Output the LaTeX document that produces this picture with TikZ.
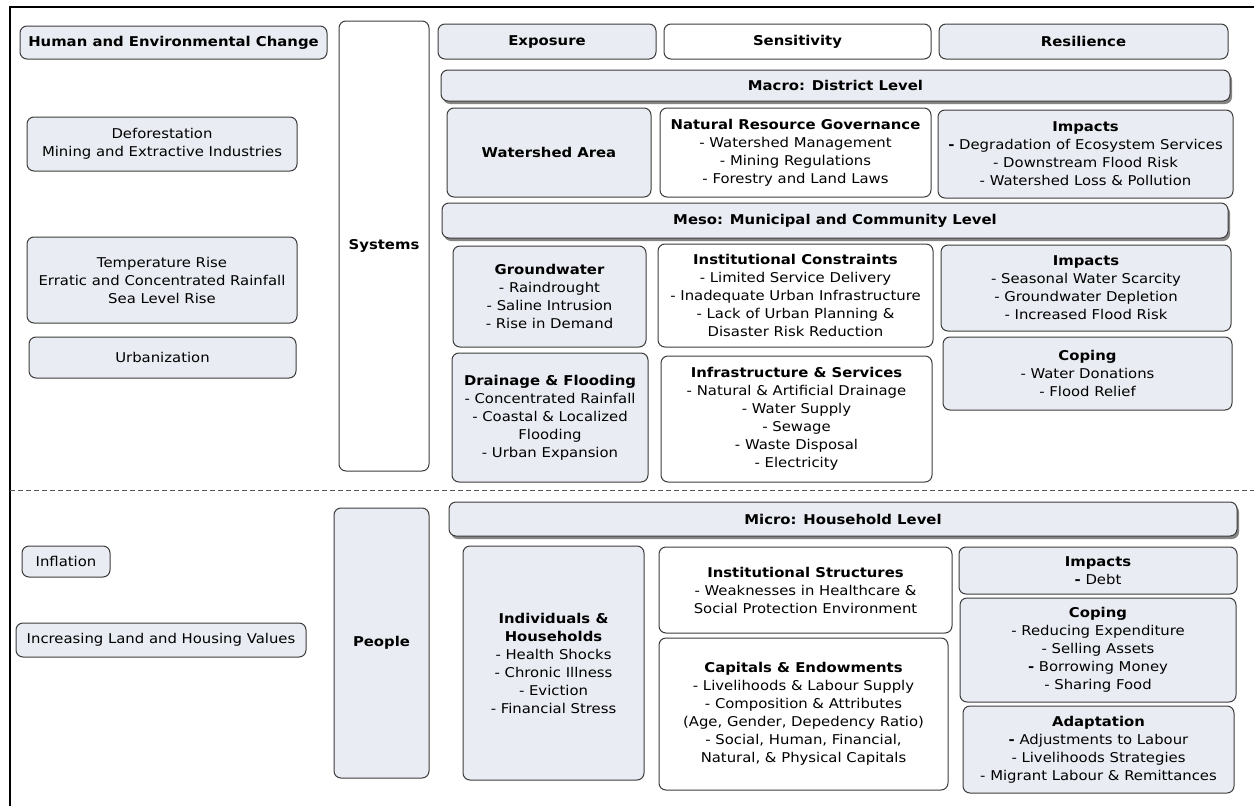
\documentclass[tikz,border=0pt]{standalone}
\usepackage{fontspec}
\setmainfont{DejaVu Sans}[FakeStretch=1.1]
\usetikzlibrary{shadows}
\definecolor{boxfill}{RGB}{233,236,242}
\definecolor{boxline}{RGB}{60,60,60}
\newcommand{\bd}{\textbf{-}}
\begin{document}
\begin{tikzpicture}[x=1pt,y=-1pt,
  box/.style={draw=boxline, line width=1pt, rounded corners=7pt, fill=boxfill,
    align=center, inner sep=2pt, outer sep=0pt, anchor=north west,
    font=\fontsize{13.5}{18}\selectfont},
  wbox/.style={box, fill=white},
  bar/.style={box, drop shadow={shadow xshift=2pt, shadow yshift=-3pt, fill=black!60, opacity=0.8}},
  hd/.style={font=\fontsize{13.5}{18}\selectfont\bfseries}]
\useasboundingbox (0,0) rectangle (1254,806);
% outer frame (top and left edges) and the divider between systems and people
\coordinate (ftl) at (10,7);
\coordinate (ftr) at (1254,7);
\coordinate (fbl) at (10,806);
\draw[line width=2pt, black] (ftr) -- (ftl) -- (fbl);
\coordinate (dl) at (10,490);
\coordinate (dr) at (1254,490);
\draw[line width=1pt, black!65, dash pattern=on 5pt off 3pt] (dl) -- (dr);

% left column: drivers of change
\node[box, hd, minimum width=307, minimum height=33] (hec) at (20,26) {Human and Environmental Change};
\node[box, minimum width=270, minimum height=54] (defo) at (27,117) {Deforestation\\Mining and Extractive Industries};
\node[box, minimum width=270, minimum height=86] (temp) at (27,237) {Temperature Rise\\Erratic and Concentrated Rainfall\\Sea Level Rise};
\node[box, minimum width=267, minimum height=41] (urb) at (29,337) {Urbanization};
\node[box, minimum width=88, minimum height=31] (infl) at (22,546) {Inflation};
\node[box, minimum width=290, minimum height=34] (land) at (16,623) {Increasing Land and Housing Values};

% systems / people columns
\node[wbox, hd, minimum width=90, minimum height=450] (sys) at (339,21) {Systems};
\node[box, hd, minimum width=95, minimum height=270] (ppl) at (334,508) {People};

% column headers
\node[box, hd, minimum width=218, minimum height=35] (expo) at (438,24) {Exposure};
\node[wbox, hd, minimum width=267, minimum height=35] (sens) at (664,24) {Sensitivity};
\node[box, hd, minimum width=289, minimum height=35] (resi) at (939,24) {Resilience};

% macro level
\node[bar, hd, minimum width=789, minimum height=31] (macro) at (441,70) {Macro: District Level};
\node[box, hd, minimum width=204, minimum height=89] (wsa) at (447,108) {Watershed Area};
\node[wbox, minimum width=271, minimum height=89] (nrg) at (660,108) {\textbf{Natural Resource Governance}\\- Watershed Management\\- Mining Regulations\\- Forestry and Land Laws};
\node[box, minimum width=295, minimum height=88] (imp1) at (938,110) {\textbf{Impacts}\\\bd{} Degradation of Ecosystem Services\\- Downstream Flood Risk\\- Watershed Loss \& Pollution};

% meso level
\node[bar, hd, minimum width=786, minimum height=35] (meso) at (442,203) {Meso: Municipal and Community Level};
\node[box, minimum width=193, minimum height=101] (gw) at (453,246) {\textbf{Groundwater}\\- Raindrought\\- Saline Intrusion\\- Rise in Demand};
\node[wbox, minimum width=275, minimum height=103] (ic) at (658,244) {\textbf{Institutional Constraints}\\- Limited Service Delivery\\- Inadequate Urban Infrastructure\\- Lack of Urban Planning \&\\Disaster Risk Reduction};
\node[box, minimum width=196, minimum height=129] (df) at (452,353) {\textbf{Drainage \& Flooding}\\- Concentrated Rainfall\\- Coastal \& Localized\\Flooding\\- Urban Expansion};
\node[wbox, minimum width=271, minimum height=126] (is) at (661,356) {\textbf{Infrastructure \& Services}\\- Natural \& Artificial Drainage\\- Water Supply\\- Sewage\\- Waste Disposal\\- Electricity};
\node[box, minimum width=290, minimum height=86] (imp2) at (941,245) {\textbf{Impacts}\\- Seasonal Water Scarcity\\- Groundwater Depletion\\- Increased Flood Risk};
\node[box, minimum width=289, minimum height=73] (cop1) at (943,337) {\textbf{Coping}\\- Water Donations\\- Flood Relief};

% micro level
\node[bar, hd, minimum width=788, minimum height=34] (micro) at (449,502) {Micro: Household Level};
\node[box, minimum width=181, minimum height=234] (ih) at (463,546) {\textbf{Individuals \&}\\\textbf{Households}\\- Health Shocks\\- Chronic Illness\\- Eviction\\- Financial Stress};
\node[wbox, minimum width=293, minimum height=86] (ist) at (659,547) {\textbf{Institutional Structures}\\- Weaknesses in Healthcare \&\\Social Protection Environment};
\node[wbox, minimum width=289, minimum height=152] (ce) at (659,638) {\textbf{Capitals \& Endowments}\\- Livelihoods \& Labour Supply\\- Composition \& Attributes\\(Age, Gender, Depedency Ratio)\\- Social, Human, Financial,\\Natural, \& Physical Capitals};
\node[box, minimum width=278, minimum height=47] (imp3) at (959,547) {\textbf{Impacts}\\\bd{} Debt};
\node[box, minimum width=276, minimum height=104] (cop2) at (960,598) {\textbf{Coping}\\- Reducing Expenditure\\- Selling Assets\\\bd{} Borrowing Money\\- Sharing Food};
\node[box, minimum width=271, minimum height=87] (adap) at (963,706) {\textbf{Adaptation}\\\bd{} Adjustments to Labour\\- Livelihoods Strategies\\- Migrant Labour \& Remittances};
\end{tikzpicture}
\end{document}
